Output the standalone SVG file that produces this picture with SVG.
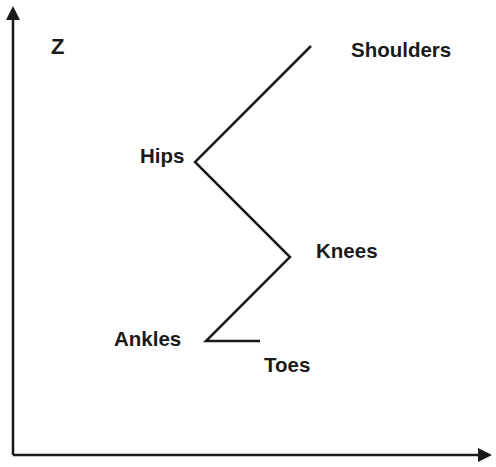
<svg xmlns="http://www.w3.org/2000/svg" width="496" height="467" viewBox="0 0 496 467">
<style>
text{font-family:"Liberation Sans",Arial,sans-serif;font-weight:bold;font-size:20.5px;fill:#1a1a1a}
.ax{stroke:#1a1a1a;stroke-width:2.5;fill:none}
.ln{stroke:#1a1a1a;stroke-width:2.5;fill:none;stroke-linejoin:miter}
</style>
<defs>
<marker id="ah" markerWidth="14" markerHeight="14" viewBox="0 0 14 14" refX="0" refY="7" orient="auto" markerUnits="userSpaceOnUse">
<path d="M0,0 L14,7 L0,14 Z" fill="#1a1a1a"/>
</marker>
</defs>
<g id="axes">
<line class="ax" x1="13" y1="455" x2="13" y2="20" marker-end="url(#ah)"/>
<line class="ax" x1="13" y1="455" x2="478" y2="455" marker-end="url(#ah)"/>
</g>
<g id="connectors">
<polyline class="ln" points="311,46 195,162 290,257 206,341 260,341"/>
</g>
<g id="z"><text x="51" y="54" style="font-size:22px">Z</text></g>
<g id="shoulders"><text x="351" y="57">Shoulders</text></g>
<g id="hips"><text x="140" y="163">Hips</text></g>
<g id="knees"><text x="316" y="258">Knees</text></g>
<g id="ankles"><text x="114" y="346">Ankles</text></g>
<g id="toes"><text x="264" y="372">Toes</text></g>
</svg>
